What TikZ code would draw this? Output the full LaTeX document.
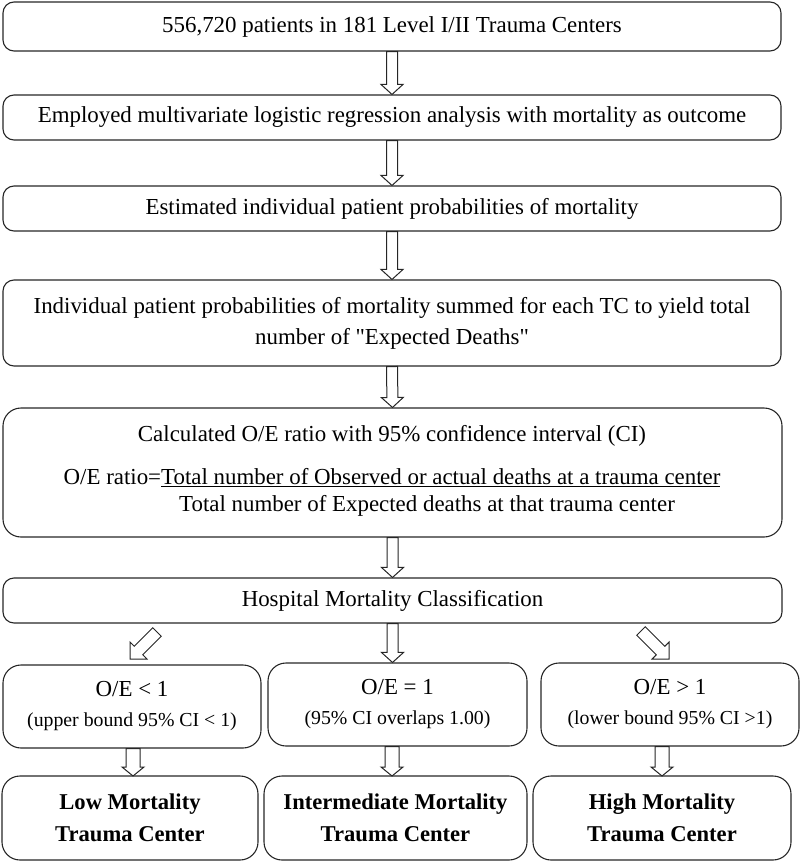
\documentclass[tikz,border=0pt]{standalone}
\usepackage{fontspec}
\setmainfont{Liberation Serif}[Ligatures=TeXOff]
\usetikzlibrary{calc}
\newcommand\hollowarrow[5]{%
  \draw[harrow] let \p1=(#1), \p2=(#2), \n1={atan2(\y2-\y1,\x2-\x1)} in
    ($(\p1)+(\n1+90:#3)$) -- ($(\p2)+(\n1+180:#5)+(\n1+90:#3)$) --
    ($(\p2)+(\n1+180:#5)+(\n1+90:#4)$) -- (\p2) --
    ($(\p2)+(\n1+180:#5)+(\n1-90:#4)$) -- ($(\p2)+(\n1+180:#5)+(\n1-90:#3)$) --
    ($(\p1)+(\n1-90:#3)$) -- cycle;}
\begin{document}
\begin{tikzpicture}[x=1pt,y=1pt,
  box/.style n args={2}{draw=black!85, line width=1.1pt, rounded corners=11pt,
    minimum width=#1pt, minimum height=#2pt, inner sep=0pt, align=center,
    font=\fontsize{22.9}{31}\selectfont},
  bigbox/.style n args={2}{box={#1}{#2}, rounded corners=18pt},
  txt/.style={inner sep=0pt, font=\fontsize{22.9}{27}\selectfont},
  boldbox/.style={font=\fontsize{22.6}{32}\selectfont\bfseries},
  harrow/.style={draw=black!85, line width=1pt, fill=white, line join=miter}]
\newcommand\smalltxt{\fontsize{19.8}{24}\selectfont}
\useasboundingbox (0,0) rectangle (800,-861);
\node[box={778}{49}] (b1) at (392,-26.5) {556,720 patients in 181 Level I/II Trauma Centers};
\node[box={778}{45}] (b2) at (392,-117.5) {Employed multivariate logistic regression analysis with mortality as outcome};
\node[box={778}{45}] (b3) at (392,-208.5) {Estimated individual patient probabilities of mortality};
\node[box={778}{86}] (b4) at (392,-323) {Individual patient probabilities of mortality summed for each TC to yield total\\number of "Expected Deaths"};
\node[bigbox={779}{129}] (b5) at (392.5,-472.5) {};
\node[txt] (t5a) at (392,-436) {Calculated O/E ratio with 95\% confidence interval (CI)};
\node[txt] (t5b) at (392,-478) {O/E ratio=\underline{Total number of Observed or actual deaths at a trauma center}};
\node[txt] (t5c) at (427,-506) {Total number of Expected deaths at that trauma center};
\node[box={779}{45}] (b6) at (392.5,-600.5) {Hospital Mortality Classification};
\node[bigbox={258}{83}] (m1) at (132,-706.5) {O/E < 1\\[-1pt]{\smalltxt (upper bound 95\% CI < 1)}};
\node[bigbox={259}{83}] (m2) at (397.5,-704.5) {O/E = 1\\[-1pt]{\smalltxt (95\% CI overlaps 1.00)}};
\node[bigbox={258}{83}] (m3) at (670,-704.5) {O/E > 1\\[-1pt]{\smalltxt (lower bound 95\% CI >1)}};
\node[bigbox={256}{84}, boldbox] (l1) at (130,-818) {Low Mortality\\Trauma Center};
\node[bigbox={263}{84}, boldbox] (l2) at (395.5,-818) {Intermediate Mortality\\Trauma Center};
\node[bigbox={258}{84}, boldbox] (l3) at (662,-818) {High Mortality\\Trauma Center};
% arrows
\hollowarrow{b1.south}{b2.north}{5.5pt}{11pt}{10pt}
\hollowarrow{b2.south}{b3.north}{5.5pt}{11pt}{10pt}
\hollowarrow{b3.south}{b4.north}{5.5pt}{11pt}{10pt}
\hollowarrow{b4.south}{b5.north}{5.5pt}{11pt}{10pt}
\hollowarrow{b5.south}{b6.north}{5.5pt}{11pt}{10pt}
\coordinate (d1s) at (157,-632);
\coordinate (d1e) at (130,-659);
\coordinate (d3s) at (641,-631);
\coordinate (d3e) at (669,-659);
\coordinate (d2e) at (b6.south |- m2.north);
\hollowarrow{d1s}{d1e}{6pt}{12pt}{12pt}
\hollowarrow{b6.south}{d2e}{5.5pt}{11pt}{10pt}
\hollowarrow{d3s}{d3e}{6pt}{12pt}{12pt}
\coordinate (e1) at (133,-776);
\coordinate (e2) at (392,-776);
\coordinate (e3) at (662,-776);
\hollowarrow{e1 |- m1.south}{e1}{7pt}{11pt}{9pt}
\hollowarrow{e2 |- m2.south}{e2}{7pt}{11pt}{9pt}
\hollowarrow{e3 |- m3.south}{e3}{7pt}{11pt}{9pt}
\end{tikzpicture}
\end{document}
